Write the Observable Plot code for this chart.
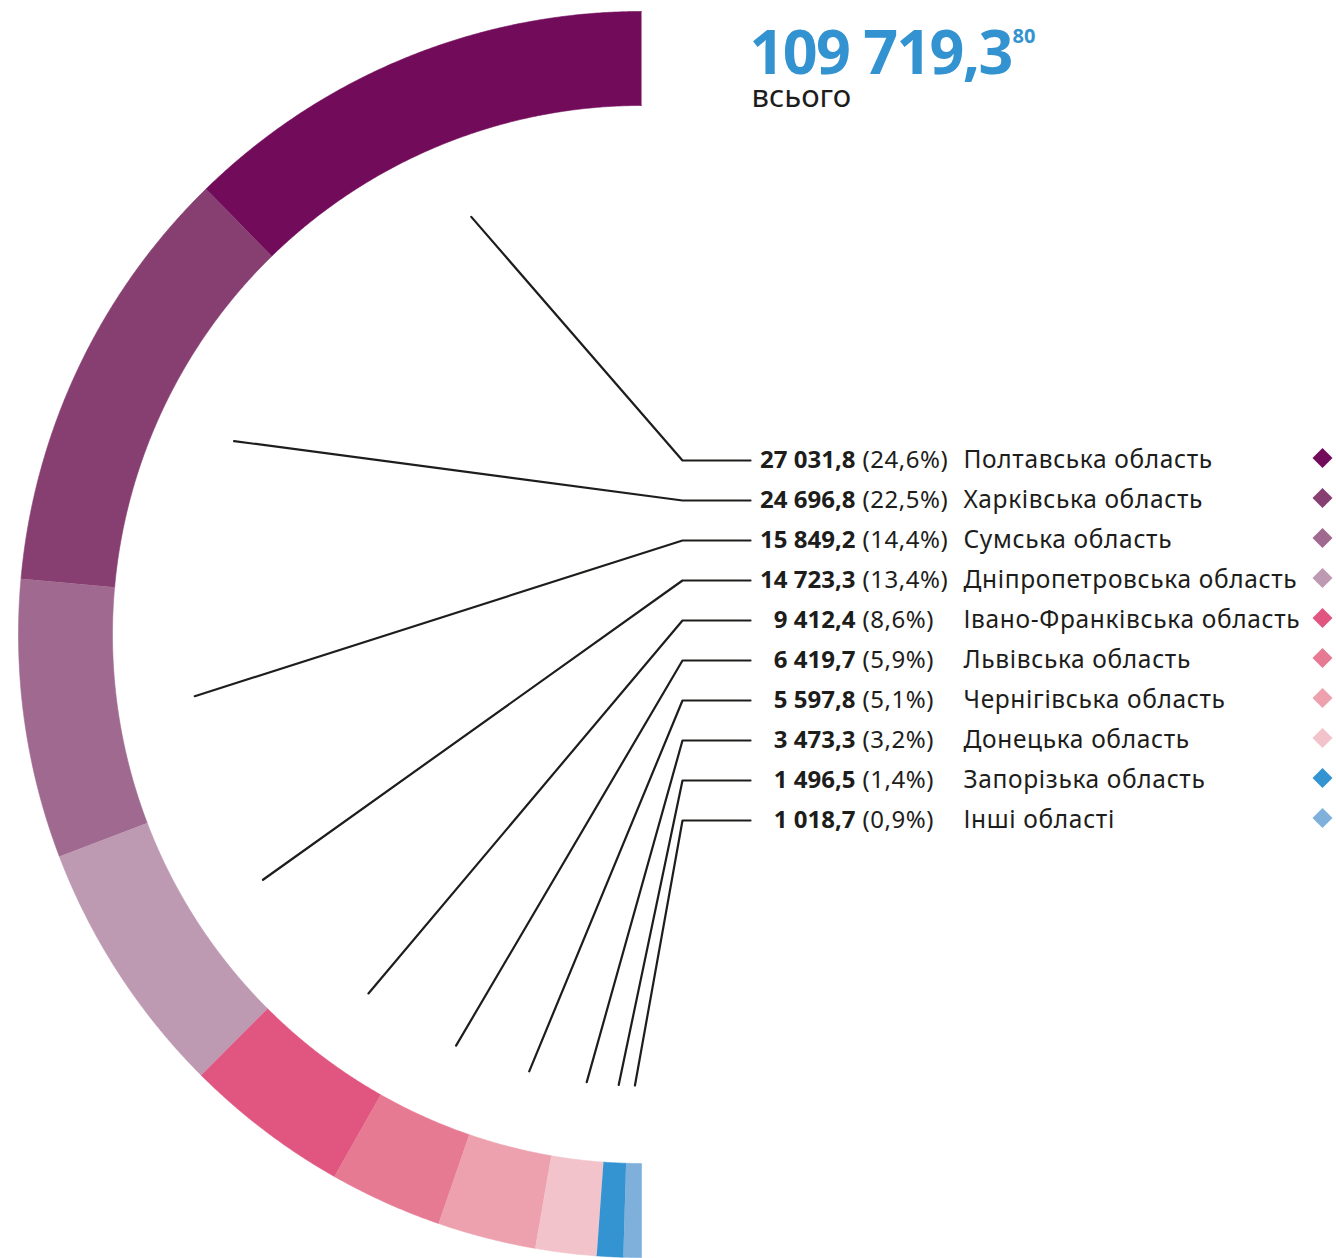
<!DOCTYPE html>
<html><head><meta charset="utf-8">
<script src="https://cdn.jsdelivr.net/npm/d3@7"></script>
<script src="https://cdn.jsdelivr.net/npm/@observablehq/plot@0.6"></script>
<style>body{margin:0;background:#fff;} svg{display:block;}</style>
</head><body><div id="chart"></div>
<script>
// ---- data ----
const regions = ["Полтавська область", "Харківська область", "Сумська область", "Дніпропетровська область", "Івано-Франківська область", "Львівська область", "Чернігівська область", "Донецька область", "Запорізька область", "Інші області"];
const values = [27031.8, 24696.8, 15849.2, 14723.3, 9412.4, 6419.7, 5597.8, 3473.3, 1496.5, 1018.7];
const shares = [24.6, 22.5, 14.4, 13.4, 8.6, 5.9, 5.1, 3.2, 1.4, 0.9];
const colors = ["#720c5a", "#873e71", "#a0698f", "#bd99b2", "#e05680", "#e77a93", "#eda0ad", "#f2c3cb", "#3394d1", "#7fb0dc"];
const totalValue = "109 719,3";
const totalSup = "80";
const totalCaption = "всього";

// ---- layout ----
const W = 1336, H = 1258;
const cx = 641, cy = 634, R1 = 623, R0 = 529, RL = 451;
const elbowX = 682, lineEndX = 750, rowY0 = 460, rowStep = 40;
const valueX = 855, shareX = 862, nameX = 963, diamondX = 1322;
const FONT = "'Noto Sans', sans-serif";
const ink = "#1d1d1b";

const loc = d3.formatLocale({decimal: ",", thousands: "\u00a0", grouping: [3]});
const fmtV = loc.format(",.1f");
const fmtP = loc.format(".1f");

const arcs = d3.pie().sort(null).startAngle(0).endAngle(-Math.PI)(values);

const ring = [];
arcs.forEach((a, i) => {
  const n = Math.max(2, Math.ceil(Math.abs(a.endAngle - a.startAngle) / 0.004));
  for (let k = 0; k <= n; k++) {
    const t = a.startAngle + (a.endAngle - a.startAngle) * k / n;
    ring.push({name: regions[i], x: cx + R1 * Math.sin(t), y: cy - R1 * Math.cos(t)});
  }
  for (let k = n; k >= 0; k--) {
    const t = a.startAngle + (a.endAngle - a.startAngle) * k / n;
    ring.push({name: regions[i], x: cx + R0 * Math.sin(t), y: cy - R0 * Math.cos(t)});
  }
});

const leaders = [];
arcs.forEach((a, i) => {
  const m = (a.startAngle + a.endAngle) / 2;
  const yl = rowY0 + i * rowStep;
  leaders.push({name: regions[i], x: cx + RL * Math.sin(m), y: cy - RL * Math.cos(m)});
  leaders.push({name: regions[i], x: elbowX, y: yl});
  leaders.push({name: regions[i], x: lineEndX, y: yl});
});

const rows = regions.map((r, i) => ({name: r, value: fmtV(values[i]), share: "(" + fmtP(shares[i]) + "%)", y: rowY0 + i * rowStep}));
const header = [{t: totalValue, s: totalSup, c: totalCaption}];

const chart = Plot.plot({
  width: W, height: H,
  marginTop: 0, marginRight: 0, marginBottom: 0, marginLeft: 0,
  style: {fontFamily: FONT, background: "#fff"},
  x: {domain: [0, W], range: [0, W], axis: null},
  y: {domain: [0, H], range: [0, H], axis: null},
  color: {domain: regions, range: colors},
  marks: [
    Plot.line(ring, {x: "x", y: "y", z: "name", fill: "name", stroke: "name", strokeWidth: 0.6, curve: "linear"}),
    Plot.line(leaders, {x: "x", y: "y", z: "name", stroke: ink, strokeWidth: 2.2, curve: "linear"}),
    Plot.text(rows, {x: valueX, y: "y", text: "value", textAnchor: "end", fontWeight: "bold", fontSize: 24, fill: ink}),
    Plot.text(rows, {x: shareX, y: "y", text: "share", textAnchor: "start", fontSize: 24, fill: ink}),
    Plot.text(rows, {x: nameX, y: "y", text: "name", textAnchor: "start", fontSize: 24.5, fill: ink}),
    Plot.dot(rows, {x: diamondX, y: "y", dy: -2.5, symbol: "diamond2", r: 9, fill: "name", stroke: null}),
    Plot.text(header, {x: 749, y: 73, text: "t", textAnchor: "start", lineAnchor: "bottom", fontSize: 61, fontWeight: "bold", fill: "#3393d0"}),
    Plot.text(header, {x: 1012, y: 42, text: "s", textAnchor: "start", lineAnchor: "bottom", fontSize: 20, fontWeight: "bold", fill: "#3393d0"}),
    Plot.text(header, {x: 751, y: 106, text: "c", textAnchor: "start", lineAnchor: "bottom", fontSize: 31, fill: ink})
  ]
});
// letter-spacing per text mark (in mark order): values, shares, names, total, sup, caption
const spacing = ["0px", "0.55px", "0.65px", "-1.7px", "0px", "0px"];
d3.select(chart).selectAll("g[aria-label='text']").each(function(d, i) {
  if (spacing[i] !== undefined) this.style.letterSpacing = spacing[i];
});
document.getElementById("chart").appendChild(chart);
</script>
</body></html>
